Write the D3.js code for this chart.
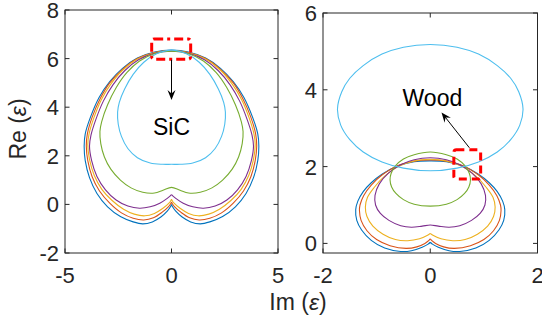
<!DOCTYPE html>
<html><head><meta charset="utf-8">
<script src="https://cdn.jsdelivr.net/npm/d3@7/dist/d3.min.js"></script>
<style>
html,body{margin:0;padding:0;background:#fff;}
text{font-family:"Liberation Sans",Arial,Helvetica,sans-serif;fill:#262626;}
</style></head>
<body><svg id="chart" width="542" height="322"></svg>
<script>
// ---------- DATA (right halves, Im >= 0, from top to bottom; mirrored for Im < 0) ----------
const seriesColors = ["#0072BD","#D95319","#EDB120","#7E2F8E","#77AC30","#4DBEEE"];

const sicBlue   = [[0,6.35],[0.8,6.27],[1.6,6.02],[2.3,5.6],[2.9,5.05],[3.4,4.4],[3.8,3.6],[4.05,2.9],[4.1,2.4],[4.05,1.8],[3.85,1.1],[3.5,0.45],[3.0,-0.1],[2.4,-0.5],[1.8,-0.72],[1.35,-0.8],[0.9,-0.72],[0.5,-0.52],[0.2,-0.28],[0.05,-0.1],[0,0]];
const sicOrange = [[0,6.33],[0.8,6.25],[1.6,6.0],[2.3,5.56],[2.9,5.0],[3.35,4.35],[3.72,3.6],[3.95,2.9],[4.0,2.4],[3.93,1.8],[3.73,1.15],[3.38,0.55],[2.9,0.05],[2.35,-0.35],[1.8,-0.57],[1.3,-0.64],[0.85,-0.55],[0.45,-0.33],[0.15,-0.1],[0.04,0.03],[0,0.1]];
const sicYellow = [[0,6.32],[0.8,6.24],[1.6,5.98],[2.3,5.52],[2.85,4.95],[3.3,4.3],[3.65,3.55],[3.87,2.9],[3.93,2.45],[3.85,1.85],[3.63,1.2],[3.27,0.62],[2.8,0.17],[2.25,-0.2],[1.75,-0.4],[1.25,-0.47],[0.8,-0.37],[0.4,-0.16],[0.12,0.05],[0.03,0.16],[0,0.21]];
const sicPurple = [[0,6.3],[0.8,6.22],[1.55,5.95],[2.2,5.5],[2.75,4.92],[3.2,4.25],[3.55,3.5],[3.78,2.85],[3.85,2.4],[3.75,1.8],[3.5,1.15],[3.1,0.6],[2.6,0.18],[2.05,-0.07],[1.5,-0.16],[1.0,-0.1],[0.55,0.05],[0.2,0.25],[0.05,0.36],[0,0.4]];
const sicGreen  = [[0,6.3],[0.8,6.2],[1.5,5.9],[2.1,5.42],[2.6,4.8],[3.0,4.1],[3.28,3.4],[3.36,3.0],[3.32,2.5],[3.15,1.95],[2.85,1.45],[2.4,1.0],[1.9,0.68],[1.35,0.5],[0.8,0.47],[0.4,0.58],[0,0.7]];
const sicCyan   = [[0,6.35],[0.7,6.2],[1.3,5.85],[1.8,5.35],[2.2,4.75],[2.45,4.2],[2.53,3.8],[2.5,3.3],[2.35,2.8],[2.05,2.3],[1.6,1.92],[1.0,1.7],[0.4,1.65],[0,1.65]];

const woodBlue   = [[0,2.15],[0.3,2.13],[0.6,2.02],[0.9,1.8],[1.1,1.58],[1.25,1.35],[1.35,1.1],[1.39,0.88],[1.37,0.6],[1.28,0.35],[1.1,0.08],[0.85,-0.12],[0.55,-0.21],[0.35,-0.19],[0.15,-0.1],[0.04,-0.02],[0,0.03]];
const woodOrange = [[0,2.17],[0.3,2.14],[0.6,2.03],[0.9,1.78],[1.1,1.52],[1.24,1.25],[1.31,1.0],[1.32,0.85],[1.29,0.6],[1.18,0.33],[1.0,0.1],[0.75,-0.06],[0.45,-0.13],[0.25,-0.09],[0.1,0.0],[0.03,0.07],[0,0.12]];
const woodYellow = [[0,2.19],[0.3,2.15],[0.6,2.0],[0.85,1.75],[1.05,1.45],[1.17,1.2],[1.21,0.95],[1.18,0.7],[1.07,0.45],[0.88,0.24],[0.65,0.1],[0.42,0.07],[0.2,0.12],[0.05,0.21],[0,0.26]];
const woodPurple = [[0,2.23],[0.3,2.18],[0.55,2.05],[0.78,1.83],[0.95,1.55],[1.03,1.25],[1.02,1.0],[0.93,0.78],[0.77,0.6],[0.55,0.46],[0.35,0.42],[0.15,0.45],[0,0.48]];
const woodGreen  = [[0,2.38],[0.3,2.31],[0.5,2.2],[0.65,2.02],[0.73,1.82],[0.75,1.66],[0.72,1.47],[0.64,1.3],[0.5,1.14],[0.3,1.02],[0,0.97]];
const woodCyan   = [[0,5.18],[0.5,5.11],[0.9,4.93],[1.25,4.63],[1.5,4.3],[1.65,3.95],[1.73,3.5],[1.67,3.08],[1.5,2.7],[1.25,2.38],[0.9,2.12],[0.5,1.96],[0,1.89]];

const sicSeries  = [sicBlue, sicOrange, sicYellow, sicPurple, sicGreen, sicCyan];
const woodSeries = [woodBlue, woodOrange, woodYellow, woodPurple, woodGreen, woodCyan];
const sicSmooth  = [false,false,false,false,true,true];
const woodSmooth = [false,false,false,true,true,true];

const sicXTicks = [-5,0,5], sicYTicks = [-2,0,2,4,6,8];
const woodXTicks = [-2,0,2], woodYTicks = [0,2,4,6];

// annotations (data units)
const sicBox = [-0.93, 0.9, 5.97, 6.81];
const sicArrow = [[0,5.95],[0,4.3]];
const sicLabel = {text:"SiC", x:0, y:3.2};
const woodBox = [0.44, 0.94, 1.68, 2.44];
const woodArrow = [[0.73,2.49],[0.21,3.41]];
const woodLabel = {text:"Wood", x:0.04, y:3.79};

// ---------- DRAW ----------
const svg = d3.select("#chart");
const axisColor = "#262626";
const tickFont = 22;

function panel(cfg){
  const {x, y, xTicks, yTicks, series, smooth, box, arrow, label, dash} = cfg;
  const g = svg.append("g");
  const [x0,x1] = x.range(), [y0,y1] = y.range(); // y0 bottom, y1 top
  const clipId = "clip"+Math.round(x0);
  svg.append("clipPath").attr("id",clipId).append("rect")
    .attr("x",x0).attr("y",y1).attr("width",x1-x0).attr("height",y0-y1);
  const plot = g.append("g").attr("clip-path",`url(#${clipId})`);

  series.forEach((half,i)=>{
    const mirror = half.map(p=>[-p[0],p[1]]);
    let pts, curve;
    if (smooth[i]) {
      pts = half.concat(mirror.slice(1,-1).reverse());
      curve = d3.curveCatmullRomClosed.alpha(0.5);
    } else {
      pts = half.slice().reverse().concat(mirror.slice(1));
      curve = d3.curveCatmullRom.alpha(0.5);
    }
    const line = d3.line().x(d=>x(d[0])).y(d=>y(d[1])).curve(curve);
    plot.append("path").attr("d",line(pts)).attr("fill","none")
      .attr("stroke",seriesColors[i]).attr("stroke-width",1.1);
  });

  // box & ticks
  const tl = 4.5;
  g.append("rect").attr("x",x0).attr("y",y1).attr("width",x1-x0).attr("height",y0-y1)
    .attr("fill","none").attr("stroke",axisColor).attr("stroke-width",1);
  xTicks.forEach(t=>{
    g.append("line").attr("x1",x(t)).attr("x2",x(t)).attr("y1",y0).attr("y2",y0-tl).attr("stroke",axisColor);
    g.append("line").attr("x1",x(t)).attr("x2",x(t)).attr("y1",y1).attr("y2",y1+tl).attr("stroke",axisColor);
    g.append("text").attr("x",x(t)).attr("y",y0+30).attr("text-anchor","middle")
      .attr("font-size",tickFont).text(t<0?"-"+Math.abs(t):t);
  });
  yTicks.forEach(t=>{
    g.append("line").attr("x1",x0).attr("x2",x0+tl).attr("y1",y(t)).attr("y2",y(t)).attr("stroke",axisColor);
    g.append("line").attr("x1",x1).attr("x2",x1-tl).attr("y1",y(t)).attr("y2",y(t)).attr("stroke",axisColor);
    g.append("text").attr("x",x0-6).attr("y",y(t)).attr("dy","0.36em").attr("text-anchor","end")
      .attr("font-size",tickFont).text(t<0?"-"+Math.abs(t):t);
  });

  // annotation box
  const bx0 = x(box[0]), bx1 = x(box[1]), by0 = y(box[3]), by1 = y(box[2]);
  g.append("rect").attr("x",bx0).attr("y",by0).attr("width",bx1-bx0).attr("height",by1-by0)
    .attr("rx",2.5).attr("fill","none").attr("stroke","#FF0000").attr("stroke-width",3)
    .attr("stroke-dasharray",dash);
  // arrow
  const ax0 = x(arrow[0][0]), ay0 = y(arrow[0][1]), ax1 = x(arrow[1][0]), ay1 = y(arrow[1][1]);
  const len = Math.hypot(ax1-ax0, ay1-ay0), dx=(ax1-ax0)/len, dy=(ay1-ay0)/len;
  const L=10, W=4, nx=-dy, ny=dx;
  g.append("line").attr("x1",ax0).attr("y1",ay0).attr("x2",ax1-dx*L*0.6).attr("y2",ay1-dy*L*0.6)
    .attr("stroke","#000").attr("stroke-width",1);
  g.append("path").attr("d",`M${ax1},${ay1}L${ax1-dx*L+nx*W},${ay1-dy*L+ny*W}L${ax1-dx*L*0.65},${ay1-dy*L*0.65}L${ax1-dx*L-nx*W},${ay1-dy*L-ny*W}Z`)
    .attr("fill","#000");
  g.append("text").attr("x",x(label.x)).attr("y",y(label.y)).attr("dy","0.36em")
    .attr("text-anchor","middle").attr("font-size",23).style("fill","#000").text(label.text);
}

panel({
  x: d3.scaleLinear([-5,5],[65,278]),
  y: d3.scaleLinear([-2,8],[253,10]),
  xTicks: sicXTicks, yTicks: sicYTicks, series: sicSeries, smooth: sicSmooth,
  box: sicBox, arrow: sicArrow, label: sicLabel, dash: "9,4,3,4"
});
panel({
  x: d3.scaleLinear([-2,2],[323,537.5]),
  y: d3.scaleLinear([-0.25,6],[253,13]),
  xTicks: woodXTicks, yTicks: woodYTicks, series: woodSeries, smooth: woodSmooth,
  box: woodBox, arrow: woodArrow, label: woodLabel, dash: "8,5"
});

// axis labels
const xl = svg.append("text").attr("x",298).attr("y",310).attr("text-anchor","middle").attr("font-size",23);
xl.append("tspan").text("Im (");
xl.append("tspan").style("font-style","italic").text("ε");
xl.append("tspan").text(")");
const yl = svg.append("text").attr("transform","translate(26,129) rotate(-90)").attr("text-anchor","middle").attr("font-size",23);
yl.append("tspan").text("Re (");
yl.append("tspan").style("font-style","italic").text("ε");
yl.append("tspan").text(")");
</script></body></html>
